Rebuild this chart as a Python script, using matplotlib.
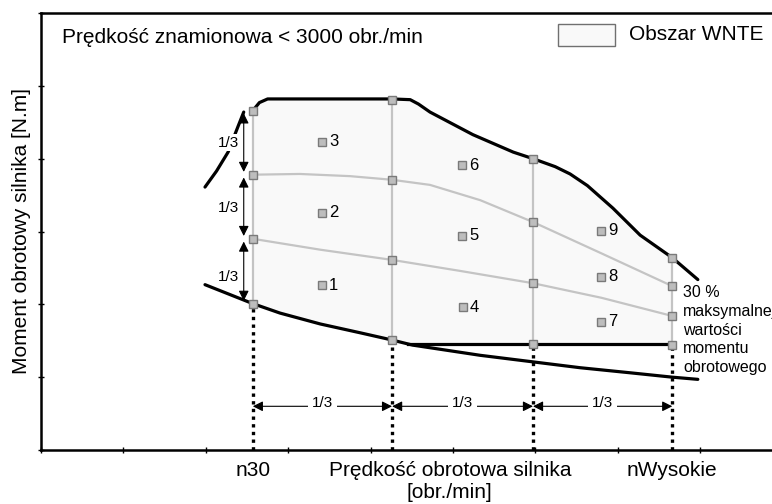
import matplotlib
matplotlib.use("Agg")
import matplotlib.pyplot as plt
from matplotlib.patches import Rectangle

plt.rcParams['font.family'] = ['Liberation Sans', 'DejaVu Sans']

# speed columns: n30, two intermediate, nWysokie
cols_x = [2.57, 4.26, 5.97, 7.66]
col_top = [4.66, 4.81, 4.00, 2.64]
col_hi = [3.78, 3.71, 3.13, 2.25]
col_lo = [2.90, 2.61, 2.29, 1.84]
col_bot = [2.01, 1.51, 1.46, 1.44]

# full load torque curve
full_x = [2.57, 2.65, 2.75, 3.14, 4.26, 4.48, 4.58, 4.72, 5.24, 5.73, 5.97, 6.24, 6.42, 6.63, 6.94, 7.27, 7.66, 7.97]
full_y = [4.66, 4.77, 4.82, 4.82, 4.82, 4.81, 4.75, 4.64, 4.33, 4.09, 4.00, 3.89, 3.79, 3.63, 3.32, 2.95, 2.64, 2.34]
left_x = [1.99, 2.13, 2.27, 2.39, 2.46]
left_y = [3.61, 3.83, 4.09, 4.44, 4.64]

# 30 % torque curve
low_x = [1.99, 2.48, 2.57, 2.90, 3.39, 3.87, 4.26, 4.51, 5.33, 5.97, 6.54, 7.15, 7.66, 7.97]
low_y = [2.27, 2.05, 2.01, 1.88, 1.73, 1.61, 1.51, 1.44, 1.30, 1.21, 1.13, 1.06, 1.00, 0.97]
flat_x = [4.45, 7.66]
flat_y = [1.455, 1.455]

# grey division lines
g2_x = [2.57, 3.14, 3.75, 4.26, 4.72, 5.33, 5.97, 6.80, 7.66]
g2_y = [3.78, 3.79, 3.76, 3.71, 3.64, 3.43, 3.13, 2.70, 2.25]
g3_x = [2.57, 3.39, 4.26, 5.08, 5.97, 6.80, 7.66]
g3_y = [2.90, 2.75, 2.61, 2.46, 2.29, 2.09, 1.84]

# test zones
zone_x = [3.41, 3.41, 3.41, 5.12, 5.11, 5.11, 6.80, 6.80, 6.80]
zone_y = [2.26, 3.26, 4.23, 1.96, 2.94, 3.91, 1.76, 2.38, 3.01]
zone_labels = ['1', '2', '3', '4', '5', '6', '7', '8', '9']

xtick_labels = ['n30', 'Prędkość obrotowa silnika\n[obr./min]', 'nWysokie']
xtick_pos = [2.57, 4.96, 7.66]

fig = plt.figure(figsize=(7.72, 5.04), dpi=100)
ax = fig.add_axes([41 / 772, 54 / 504, 731 / 772, 437 / 504])
ax.set_xlim(0, 8.87)
ax.set_ylim(0, 6.0)

grey = '#c4c4c4'
area = '#f9f9f9'
sq = dict(marker='s', markersize=6, markerfacecolor='#bdbdbd', markeredgecolor='#7a7a7a', markeredgewidth=1)

# WNTE area
poly_x = full_x[:17] + [cols_x[3]] + flat_x[::-1] + low_x[6:1:-1]
poly_y = full_y[:17] + [col_bot[3]] + flat_y[::-1] + low_y[6:1:-1]
ax.fill(poly_x, poly_y, color=area, zorder=1, lw=0)

for i in range(4):
    ax.plot([cols_x[i], cols_x[i]], [col_bot[i], col_top[i]], color=grey, lw=1.6, zorder=2)
    ax.plot([cols_x[i], cols_x[i]], [0, col_bot[i]], color='black', lw=2.4,
            linestyle=(0, (1, 1.3)), zorder=2)
ax.plot(g2_x, g2_y, color=grey, lw=1.6, zorder=2)
ax.plot(g3_x, g3_y, color=grey, lw=1.6, zorder=2)

ax.plot(full_x, full_y, color='black', lw=2.3, zorder=3, solid_capstyle='round')
ax.plot(left_x, left_y, color='black', lw=2.3, zorder=3, solid_capstyle='round')
ax.plot(low_x, low_y, color='black', lw=2.3, zorder=3, solid_capstyle='round')
ax.plot(flat_x, flat_y, color='black', lw=2.3, zorder=3)

for i in range(4):
    ax.plot([cols_x[i]] * 4, [col_top[i], col_hi[i], col_lo[i], col_bot[i]], linestyle='none', zorder=5, **sq)

ax.plot(zone_x, zone_y, linestyle='none', zorder=5, **sq)
for x, y, t in zip(zone_x, zone_y, zone_labels):
    ax.annotate(t, (x, y), xytext=(5, 0), textcoords='offset points', ha='left', va='center', fontsize=12)

# vertical 1/3 dimension arrows
arr = dict(arrowstyle='<|-|>', color='black', lw=0.8, mutation_scale=15, shrinkA=2, shrinkB=2)
levels = [col_top[0], col_hi[0], col_lo[0], col_bot[0]]
for k in range(3):
    ax.annotate('', xy=(2.46, levels[k]), xytext=(2.46, levels[k + 1]), arrowprops=arr, zorder=4)
for y in [4.22, 3.32, 2.38]:
    ax.text(2.27, y, '1/3', ha='center', va='center', fontsize=11, zorder=6,
            bbox=dict(facecolor='white', edgecolor='none', pad=1))

# horizontal 1/3 dimension arrows
arr2 = dict(arrowstyle='<|-|>', color='black', lw=0.8, mutation_scale=15, shrinkA=0, shrinkB=0)
for k in range(3):
    ax.annotate('', xy=(cols_x[k], 0.60), xytext=(cols_x[k + 1], 0.60), arrowprops=arr2, zorder=4)
    ax.text((cols_x[k] + cols_x[k + 1]) / 2, 0.65, '1/3', ha='center', va='center', fontsize=11, zorder=6,
            bbox=dict(facecolor='white', edgecolor='none', pad=3))

ax.text(0.255, 5.67, 'Prędkość znamionowa < 3000 obr./min', ha='left', va='center', fontsize=15)
ax.add_patch(Rectangle((0.707, 0.924), 0.078, 0.050, transform=ax.transAxes,
                       facecolor=area, edgecolor='#707070', lw=1))
ax.text(7.14, 5.70, 'Obszar WNTE', ha='left', va='center', fontsize=15)
ax.text(7.79, 2.26, '30 %\nmaksymalnej\nwartości\nmomentu\nobrotowego', ha='left', va='top',
        fontsize=11.5, linespacing=1.3)

ax.set_ylabel('Moment obrotowy silnika [N.m]', fontsize=15, labelpad=1)
ax.set_xticks(range(0, 9))
ax.set_xticklabels([])
ax.set_yticks(range(0, 7))
ax.set_yticklabels([])
ax.set_xticks(xtick_pos, minor=True)
ax.set_xticklabels(xtick_labels, minor=True, fontsize=15)
ax.tick_params(axis='both', which='major', direction='inout', length=5, width=1)
ax.tick_params(axis='x', which='minor', length=0, pad=8)
ax.spines['right'].set_visible(False)
for s in ['left', 'bottom', 'top']:
    ax.spines[s].set_linewidth(1.8)

fig.savefig('out.png', dpi=100)
